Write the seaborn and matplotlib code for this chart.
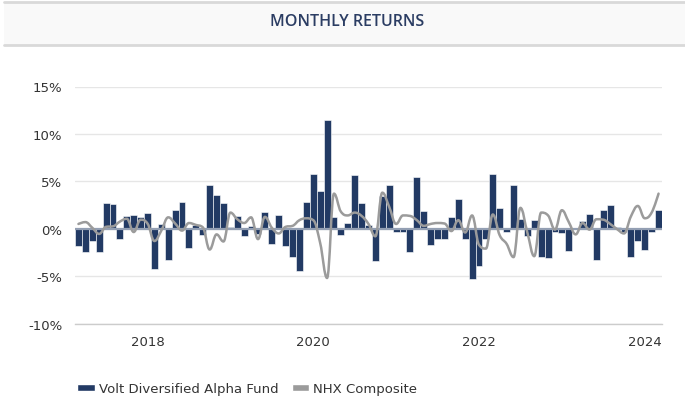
"""Monthly returns: fund bars vs NHX Composite spline."""

import matplotlib

matplotlib.use("Agg")
import matplotlib.pyplot as plt
import pandas as pd
import seaborn as sns
from matplotlib.lines import Line2D
from matplotlib.patches import Patch, PathPatch, Rectangle
from matplotlib.path import Path

# --- data (monthly returns in %, Mar 2017 .. Mar 2024) ---
months = pd.period_range("2017-03", "2024-03", freq="M").strftime("%Y-%m").tolist()

fund = [
    -1.8, -2.5, -1.35, -2.5, 2.75, 2.6, -1.05, 1.35, 1.45, 1.2,      # 2017
    1.7, -4.25, 0.5, -3.35, 2.0, 2.8, -2.0, 0.4, -0.7, 4.65, 3.6, 2.75,  # 2018
    0.15, 1.3, -0.8, 0.3, -0.6, 1.8, -1.6, 1.45, -1.85, -3.0, -4.45, 2.85,  # 2019
    5.8, 4.0, 11.5, 1.2, -0.7, 0.55, 5.65, 2.75, 0.35, -3.4, 3.5, 4.65,  # 2020
    -0.3, -0.4, -2.45, 5.5, 1.85, -1.7, -1.05, -1.1, 1.2, 3.1, -1.1, -5.3,  # 2021
    -3.9, -1.05, 5.8, 2.2, -0.3, 4.65, 1.05, -0.8, 0.95, -3.0, -3.1, -0.3,  # 2022
    -0.5, -2.35, 0.1, 0.8, 1.6, -3.25, 1.95, 2.45, 0.15, -0.35, -3.0, -1.35,  # 2023
    -2.2, -0.3, 1.95,                                                  # 2024
]

nhx = [
    0.5, 0.7, 0.1, -0.55, 0.2, 0.25, 0.75, 1.05, -0.35, 0.95,
    0.55, -1.3, -0.2, 1.2, 0.55, -0.2, 0.6, 0.4, 0.15, -2.2, -0.6, -1.35,
    1.7, 1.0, 0.6, 1.2, -1.1, 1.25, 0.1, -0.5, 0.2, 0.3, 0.9, 1.1,
    0.9, -1.5, -5.2, 3.7, 1.8, 1.4, 1.7, 1.35, 0.5, -0.8, 3.8, 2.3,
    0.5, 1.4, 1.35, 0.9, 0.3, 0.5, 0.6, 0.55, -0.25, 0.9, -0.4, 1.4,
    -1.7, -2.1, 1.5, -0.7, -1.6, -3.0, 2.2, -0.4, -2.9, 1.7, 1.4, -0.1,
    1.95, 0.7, -0.6, 0.6, -0.1, 1.0, 0.95, 0.5, -0.05, -0.5, 1.3, 2.4,
    1.1, 1.7, 3.7,
]

year_ticks = ["2018-01", "2020-01", "2022-01", "2024-01"]
year_labels = ["2018", "2020", "2022", "2024"]
y_ticks = [-10, -5, 0, 5, 10, 15]

NAVY = "#223a64"
GREY = "#9b9b9b"


def spline_path(xs, ys, smoothing=1.5):
    """Highcharts-style spline through the points, as a bezier Path."""
    denom = smoothing + 1
    n = len(xs)
    right = [None] * n
    verts = [(xs[0], ys[0])]
    codes = [Path.MOVETO]
    for i in range(1, n):
        x, y = xs[i], ys[i]
        lx, ly = xs[i - 1], ys[i - 1]
        lcx, lcy = x, y
        if i < n - 1:
            nx, ny = xs[i + 1], ys[i + 1]
            lcx = (smoothing * x + lx) / denom
            lcy = (smoothing * y + ly) / denom
            rcx = (smoothing * x + nx) / denom
            rcy = (smoothing * y + ny) / denom
            corr = (rcy - lcy) * (rcx - x) / (rcx - lcx) + y - rcy
            lcy += corr
            rcy += corr
            if lcy > ly and lcy > y:
                lcy = max(ly, y)
                rcy = 2 * y - lcy
            elif lcy < ly and lcy < y:
                lcy = min(ly, y)
                rcy = 2 * y - lcy
            if rcy > ny and rcy > y:
                rcy = max(ny, y)
                lcy = 2 * y - rcy
            elif rcy < ny and rcy < y:
                rcy = min(ny, y)
                lcy = 2 * y - rcy
            right[i] = (rcx, rcy)
        c1 = right[i - 1] if right[i - 1] is not None else (lx, ly)
        verts += [c1, (lcx, lcy), (x, y)]
        codes += [Path.CURVE4] * 3
    return Path(verts, codes)


sns.set_style("white")
plt.rcParams["font.family"] = ["DejaVu Sans"]

df = pd.DataFrame({"month": months, "fund": fund, "nhx": nhx})

fig = plt.figure(figsize=(6.85, 4.02), dpi=100)
ax = fig.add_axes([75 / 685, 1 - 324.5 / 402, 587 / 685, 237 / 402])

# header band
fig.patches.append(Rectangle((0.006, 1 - 46 / 402), 0.994, 43 / 402,
                             transform=fig.transFigure, facecolor="#f9f9f9",
                             edgecolor="none", zorder=0))
for yy in (1 - 3 / 402, 1 - 46 / 402):
    fig.add_artist(Line2D([0.006, 1], [yy, yy], transform=fig.transFigure,
                          color="#d9d9d9", lw=2))
fig.text(347 / 685, 1 - 22 / 402, "MONTHLY RETURNS", ha="center", va="center",
         fontsize=11.5, color="#2b3d63", family=["Open Sans", "DejaVu Sans"],
         weight="semibold")

sns.barplot(data=df, x="month", y="fund", color=NAVY, saturation=1, width=1,
            errorbar=None, edgecolor="white", linewidth=0.4, ax=ax, zorder=2)

xs = list(range(len(months)))
ax.add_patch(PathPatch(spline_path(xs, df["nhx"].tolist()), facecolor="none",
                       edgecolor=GREY, lw=1.8, zorder=4,
                       capstyle="round", joinstyle="round"))
ax.axhline(0, color="#939fb3", lw=1.6, zorder=3)

ax.set_xlim(-0.5, len(months) - 0.5)
ax.set_ylim(-10, 15)
ax.set_yticks(y_ticks)
ax.set_yticklabels([f"{v}%" for v in y_ticks])
ax.set_xticks([months.index(m) for m in year_ticks])
ax.set_xticklabels(year_labels)
ax.set_xlabel("")
ax.set_ylabel("")

ax.yaxis.grid(True, color="#e6e6e6", lw=1)
ax.set_axisbelow(True)
for s in ("top", "right", "left"):
    ax.spines[s].set_visible(False)
ax.spines["bottom"].set_color("#cccccc")
ax.spines["bottom"].set_linewidth(1)
ax.tick_params(axis="y", length=0, pad=9, labelsize=9.5, labelcolor="#333333")
ax.tick_params(axis="x", length=5, width=1, color="#cccccc", pad=3,
               labelsize=9.5, labelcolor="#333333")

handles = [Patch(facecolor=NAVY, label="Volt Diversified Alpha Fund"),
           Patch(facecolor=GREY, label="NHX Composite")]
fig.legend(handles=handles, loc="center left", bbox_to_anchor=(77 / 685, 1 - 390 / 402),
           ncol=2, frameon=False, fontsize=9.5, handlelength=1.35, handleheight=0.45,
           handletextpad=0.3, columnspacing=1.0, borderpad=0, borderaxespad=0,
           labelcolor="#333333")

fig.savefig("out.png", dpi=100)
